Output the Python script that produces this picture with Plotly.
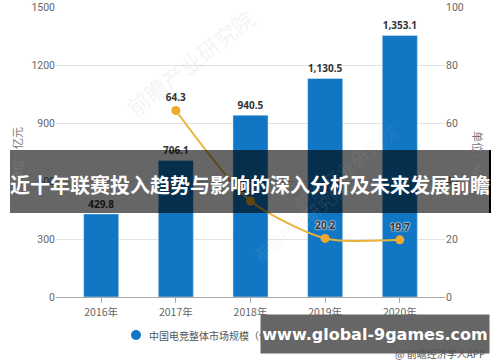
import plotly.graph_objects as go

years = ["2016年", "2017年", "2018年", "2019年", "2020年"]
market_size = [429.8, 706.1, 940.5, 1130.5, 1353.1]
growth_years = ["2017年", "2018年", "2019年", "2020年"]
growth_rate = [64.3, 33.1, 20.2, 19.7]
left_ticks = [0, 300, 600, 900, 1200, 1500]
right_ticks = [0, 20, 40, 60, 80, 100]
title_text = "近十年联赛投入趋势与影响的深入分析及未来发展前瞻"
site_text = "www.global-9games.com"
legend_bar = "中国电竞整体市场规模（亿元）"
source_text = "@ 前瞻经济学人APP"
watermark = "前瞻产业研究院"

W, H = 500, 362
CJK = "Noto Sans CJK SC, Noto Sans, sans-serif"
px = lambda v: v / W
py = lambda v: 1 - v / H


def note(x, y, text, xanchor="center", **kw):
    return dict(x=px(x), y=py(y), xref="paper", yref="paper", xanchor=xanchor, yanchor="middle",
                text=text, showarrow=False, **kw)


fig = go.Figure()
fig.add_bar(x=years, y=market_size, width=0.47, marker_color="#1177c4",
            texttemplate="%{y:,.1f}", textposition="outside", cliponaxis=False,
            textfont=dict(size=10, color="#333333", family="Noto Sans, sans-serif", weight="bold"),
            showlegend=False)
fig.add_scatter(x=growth_years, y=growth_rate, yaxis="y2", mode="lines+markers+text",
                line=dict(color="#e8b33a", width=2, shape="spline", smoothing=0.7),
                marker=dict(color="#eeaa2e", size=9),
                texttemplate="%{y:.1f}", textposition="top center", cliponaxis=False,
                textfont=dict(size=10, color="#333333", family="Noto Sans, sans-serif", weight="bold",
                              shadow="0px 0px 2px #ffffff, 0px 0px 2px #ffffff"),
                showlegend=False)

annotations = []
for (x, y, a, s, c) in [(190, 62, -38, 22, "rgba(195,205,220,0.22)"),
                        (345, 168, -38, 18, "rgba(195,205,220,0.10)"),
                        (300, 222, -38, 16, "rgba(195,205,220,0.14)")]:
    annotations.append(note(x, y, watermark, textangle=a, font=dict(size=s, family=CJK, color=c)))
annotations += [
    note(17, 155, "单位：亿元", textangle=-90, font=dict(size=11, family=CJK, color="#777777")),
    note(478, 152, "单位：%", textangle=90, font=dict(size=11, family=CJK, color="#777777")),
    note(147, 335, legend_bar, xanchor="left", font=dict(size=10, family=CJK, color="#555555")),
    note(375, 334, site_text, width=228, height=38, bgcolor="#666666", borderpad=0, align="center",
         font=dict(size=16, family="DejaVu Sans", color="#ffffff", weight="bold")),
    note(440, 353, source_text, font=dict(size=10, family=CJK, color="#555555")),
    note(250, 184, title_text, font=dict(size=20, family=CJK, color="#ffffff", weight="bold")),
]

fig.update_layout(
    width=W, height=H, margin=dict(l=0, r=0, t=0, b=0), paper_bgcolor="#ffffff", plot_bgcolor="#ffffff",
    bargap=0.5,
    xaxis=dict(domain=[px(56), px(445)], range=[-0.605, 4.605], tickmode="array", tickvals=years,
               type="category", automargin=False, showgrid=False, showline=True, linecolor="#aaaaaa",
               ticks="outside", ticklen=5, tickcolor="#aaaaaa",
               tickfont=dict(size=10.5, family=CJK, color="#666666")),
    yaxis=dict(domain=[py(297), py(7)], range=[0, 1500], tickvals=left_ticks, showline=False, automargin=False,
               gridcolor="#e3e3e3", gridwidth=1, zeroline=False, ticks="",
               tickfont=dict(size=10.5, family="Roboto, sans-serif", color="#666666")),
    yaxis2=dict(domain=[py(297), py(7)], range=[0, 100], tickvals=right_ticks, overlaying="y", side="right",
                showgrid=False, showline=False, zeroline=False, ticks="", anchor="x", automargin=False,
                tickfont=dict(size=10.5, family="Roboto, sans-serif", color="#666666")),
    shapes=[
        dict(type="circle", xref="paper", yref="paper", x0=px(131), x1=px(141), y0=py(340), y1=py(330),
             fillcolor="#1177c4", line_width=0),
        dict(type="rect", xref="paper", yref="paper", x0=px(10), x1=px(489), y0=py(213), y1=py(150),
             fillcolor="rgba(0,0,0,0.6)", line_width=0, layer="above"),
        dict(type="rect", xref="paper", yref="paper", x0=px(489), x1=px(491), y0=py(213), y1=py(150),
             fillcolor="#000000", line_width=0, layer="above"),
    ],
    annotations=annotations,
)
fig.write_html("out.html", config={"displayModeBar": False},
               post_script="document.body.style.margin='0';")
